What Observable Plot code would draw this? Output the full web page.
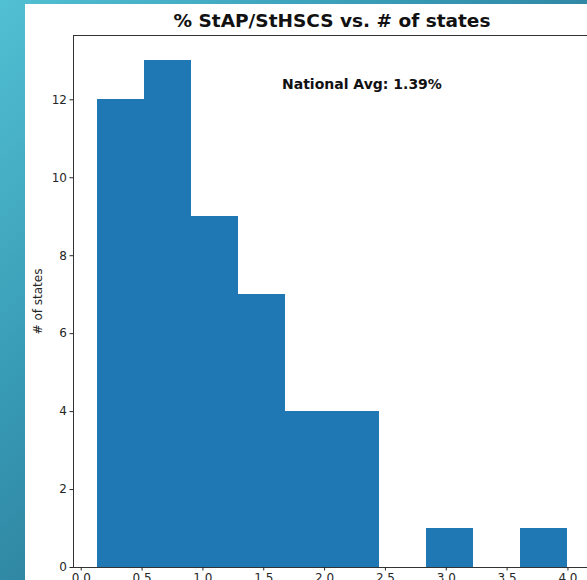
<!DOCTYPE html>
<html>
<head>
<meta charset="utf-8">
<script src="https://cdn.jsdelivr.net/npm/d3@7"></script>
<script src="https://cdn.jsdelivr.net/npm/@observablehq/plot@0.6"></script>
<style>
  html, body { margin: 0; padding: 0; width: 587px; height: 580px; overflow: hidden; }
  body {
    position: relative;
    background: linear-gradient(135deg, #52c0d3 0%, #3799b4 35%, #2c7e9c 60%, #1f5a78 100%);
    font-family: "DejaVu Sans", sans-serif;
  }
  #panel {
    position: absolute; left: 25px; top: 4px; width: 600px; height: 600px;
    background: #fff; overflow: hidden;
  }
  #title {
    position: absolute; left: 0; top: 0; width: 614px; height: 26px;
    text-align: center; font-weight: bold; font-size: 18.5px; line-height: 33px;
    color: #111;
  }
  #chart { position: absolute; left: 0; top: 26px; }
</style>
</head>
<body>
<div id="panel">
  <div id="title">% StAP/StHSCS vs. # of states</div>
  <div id="chart"></div>
</div>
<script>
const binEdges = [0.13, 0.517, 0.904, 1.291, 1.678, 2.065, 2.452, 2.839, 3.226, 3.613, 4.0];
const counts = [12, 13, 9, 7, 4, 4, 0, 1, 0, 1];
const xTicks = [0, 0.5, 1.0, 1.5, 2.0, 2.5, 3.0, 3.5, 4.0];
const yTicks = [0, 2, 4, 6, 8, 10, 12];
const annotation = [{x: 1.65, y: 12.4, text: "National Avg: 1.39%"}];

const bins = counts.map((c, i) => ({x1: binEdges[i], x2: binEdges[i + 1], count: c}));

const chart = Plot.plot({
  width: 576,
  height: 570,
  marginLeft: 48,
  marginRight: 10,
  marginTop: 5,
  marginBottom: 33,
  style: {fontFamily: "DejaVu Sans, sans-serif", fontSize: "12px", color: "#262626", background: "transparent"},
  x: {domain: [-0.0635, 4.1935]},
  y: {domain: [0, 13.65]},
  marks: [
    Plot.rectY(bins, {x1: "x1", x2: "x2", y1: 0, y2: "count", fill: "#1f77b4", inset: 0, shapeRendering: "crispEdges"}),
    Plot.frame({stroke: "#333", strokeWidth: 1}),
    Plot.axisX({ticks: xTicks, tickFormat: d3.format(".1f"), tickSize: 3.5, tickPadding: 2, label: null}),
    Plot.axisY({ticks: yTicks, tickSize: 3.5, tickPadding: 3, label: "# of states", labelAnchor: "center", labelArrow: "none", labelOffset: 40}),
    Plot.text(annotation, {x: "x", y: "y", text: "text", textAnchor: "start", fontWeight: "bold", fontSize: 14, fill: "#111"})
  ]
});
document.getElementById("chart").appendChild(chart);
</script>
</body>
</html>
